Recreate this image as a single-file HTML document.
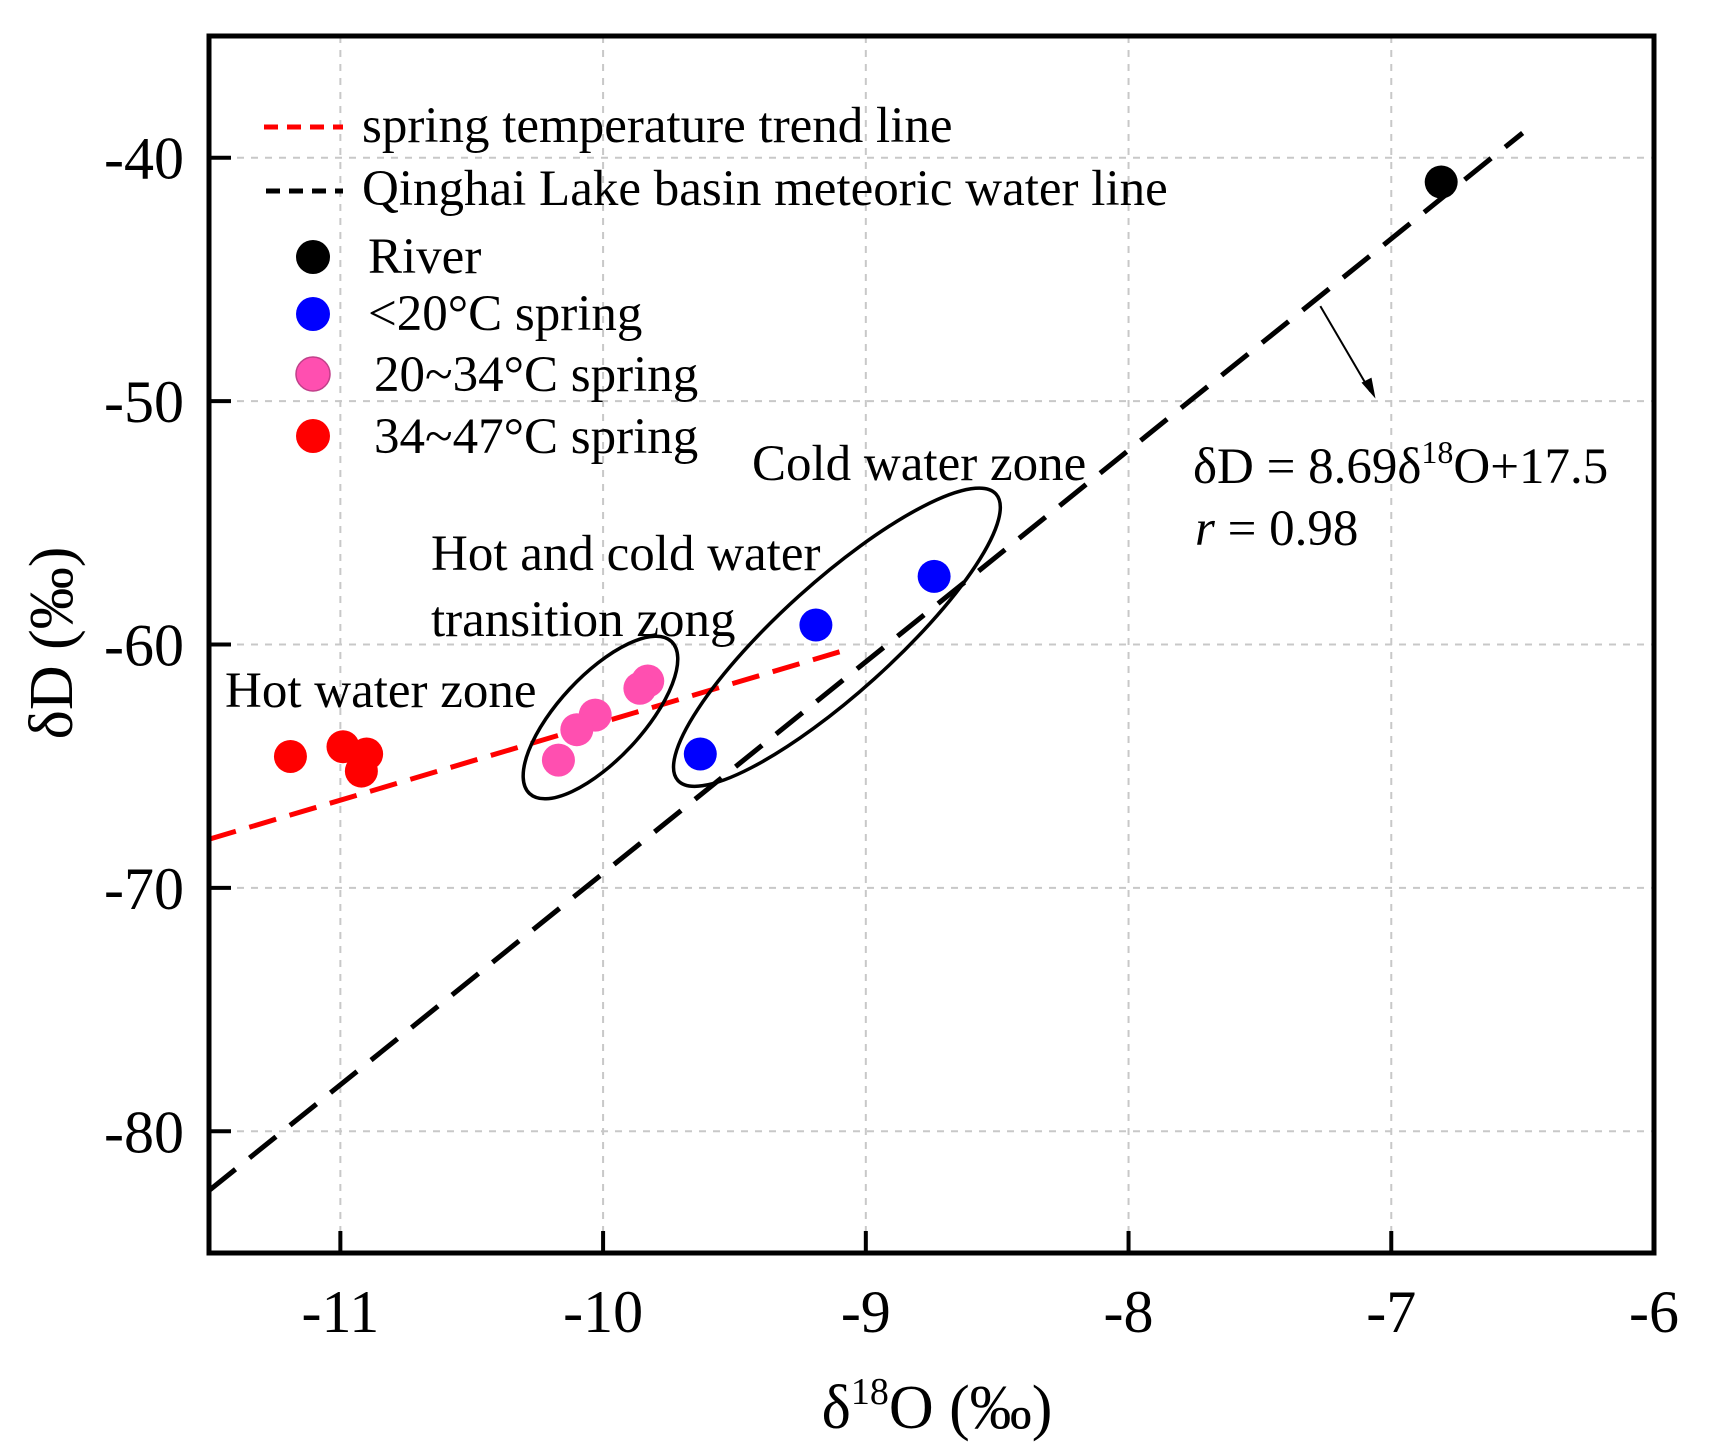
<!DOCTYPE html>
<html><head><meta charset="utf-8"><style>
html,body{margin:0;padding:0;background:#fff}
svg text{font-family:"Liberation Serif",serif;fill:#000}
</style></head><body>
<svg id="chart" width="1710" height="1448" viewBox="0 0 1710 1448" xmlns="http://www.w3.org/2000/svg">
<g id="grid"></g>
<g id="lines"></g>
<g id="zones"></g>
<g id="pts"></g>
<rect x="209" y="36" width="1445" height="1217" fill="none" stroke="#000" stroke-width="5"/>
<g id="ticks"></g>
<g font-size="51">
 <line x1="264" y1="127" x2="343" y2="127" stroke="#f00" stroke-width="5" stroke-dasharray="14,9"/>
 <text x="362" y="142">spring temperature trend line</text>
 <line x1="266" y1="191" x2="343" y2="191" stroke="#000" stroke-width="5" stroke-dasharray="14,9"/>
 <text x="362" y="205">Qinghai Lake basin meteoric water line</text>
 <circle cx="313" cy="257" r="17" fill="#000"/>
 <text x="368" y="273">River</text>
 <circle cx="313" cy="314" r="17" fill="#00f"/>
 <text x="368" y="330">&lt;20°C spring</text>
 <circle cx="313" cy="374" r="17" fill="#ff4fb0" stroke="#c0408a" stroke-width="1.5"/>
 <text x="374" y="391">20~34°C spring</text>
 <circle cx="313" cy="436" r="17" fill="#f00"/>
 <text x="374" y="453">34~47°C spring</text>
</g>
<g font-size="51">
 <text x="752" y="480">Cold water zone</text>
 <text x="431" y="570">Hot and cold water</text>
 <text x="431" y="636">transition zong</text>
 <text x="225" y="707">Hot water zone</text>
 <text x="1193" y="483">δD = 8.69δ<tspan font-size="32" dy="-20">18</tspan><tspan dy="20">O+17.5</tspan></text>
 <text x="1195" y="545"><tspan font-style="italic">r</tspan> = 0.98</text>
</g>
<text x="937" y="1428" font-size="62" text-anchor="middle">δ<tspan font-size="38" dy="-24">18</tspan><tspan dy="24">O (‰)</tspan></text>
<text transform="translate(72,643) rotate(-90)" font-size="62" text-anchor="middle">δD (‰)</text>
</svg>
<script>
const xTicks=[-11,-10,-9,-8,-7,-6];
const yTicks=[-40,-50,-60,-70,-80];
const riverX=[-6.81], riverY=[-41.0];
const coldX=[-8.74,-9.19,-9.63], coldY=[-57.2,-59.2,-64.5];
const warmX=[-9.83,-9.86,-10.03,-10.1,-10.17], warmY=[-61.5,-61.8,-62.9,-63.5,-64.75];
const hotX=[-11.19,-10.99,-10.9,-10.92], hotY=[-64.6,-64.2,-64.5,-65.2];
const mwlSlope=8.69, mwlIntercept=17.5, mwlRange=[-11.5,-6.5];
const trendX=[-11.5,-9.1], trendY=[-68.0,-60.3];
const X0=209,X1=1654,Y0=36,Y1=1253,xmin=-11.5,xmax=-6,ymin=-85,ymax=-35;
const sx=v=>X0+(v-xmin)/(xmax-xmin)*(X1-X0);
const sy=v=>Y1-(v-ymin)/(ymax-ymin)*(Y1-Y0);
const NS='http://www.w3.org/2000/svg';
function mk(t,a,p){const e=document.createElementNS(NS,t);for(const k in a)e.setAttribute(k,a[k]);p.appendChild(e);return e;}
const grid=document.getElementById('grid'),ticks=document.getElementById('ticks');
xTicks.forEach(v=>{
 const g=mk('line',{x1:sx(v),x2:sx(v),y1:Y0,y2:Y1,stroke:'#c8c8c8','stroke-width':2,'stroke-dasharray':'7,7'},grid);
 
 
 const t=mk('line',{x1:sx(v),x2:sx(v),y1:Y1,y2:Y1-22,stroke:'#000','stroke-width':4},ticks);
 
 
 const l=mk('text',{x:sx(v),y:1332,'font-size':60,'text-anchor':'middle'},ticks);l.textContent=v;
 
 
});
yTicks.forEach(v=>{
 const g=mk('line',{x1:X0,x2:X1,y1:sy(v),y2:sy(v),stroke:'#c8c8c8','stroke-width':2,'stroke-dasharray':'7,7'},grid);
 
 
 const t=mk('line',{x1:X0,x2:X0+22,y1:sy(v),y2:sy(v),stroke:'#000','stroke-width':4},ticks);
 
 
 const l=mk('text',{x:184,y:sy(v)+21,'font-size':60,'text-anchor':'end'},ticks);l.textContent=v;
 
 
});
const lines=document.getElementById('lines');
const m=mk('line',{x1:sx(mwlRange[0]),y1:sy(mwlSlope*mwlRange[0]+mwlIntercept),x2:sx(mwlRange[1]),y2:sy(mwlSlope*mwlRange[1]+mwlIntercept),stroke:'#000','stroke-width':5,'stroke-dasharray':'34,18'},lines);


const tr=mk('line',{x1:sx(trendX[0]),y1:sy(trendY[0]),x2:sx(trendX[1]),y2:sy(trendY[1]),stroke:'#f00','stroke-width':5,'stroke-dasharray':'28,14'},lines);


const ar=mk('line',{x1:sx(-7.27),y1:sy(-46.1),x2:sx(-7.08),y2:sy(-49.6),stroke:'#000','stroke-width':2},lines);


const ah=mk('path',{d:`M${sx(-7.06)},${sy(-49.9)} l-14,-16 l10,-5 z`,fill:'#000'},lines);


const zones=document.getElementById('zones');
const e1=mk('ellipse',{cx:0,cy:0,rx:214,ry:56,fill:'none',stroke:'#000','stroke-width':3.5,transform:`translate(${sx(-9.11)},${sy(-59.7)}) rotate(-42)`},zones);


const e2=mk('ellipse',{cx:0,cy:0,rx:104,ry:42,fill:'none',stroke:'#000','stroke-width':3.5,transform:`translate(${sx(-10.01)},${sy(-63.0)}) rotate(-47)`},zones);


const pts=document.getElementById('pts');
function series(xs,ys,fill,name){xs.forEach((x,i)=>{const c=mk('circle',{cx:sx(x),cy:sy(ys[i]),r:16.5,fill:fill},pts);
 
 });}
series(riverX,riverY,'#000','river-point');
series(coldX,coldY,'#00f','cold-spring-point');
series(warmX,warmY,'#ff4fb0','warm-spring-point');
series(hotX,hotY,'#f00','hot-spring-point');
</script>
</body></html>
